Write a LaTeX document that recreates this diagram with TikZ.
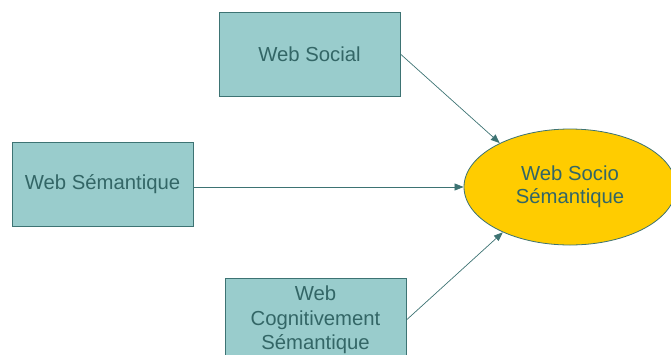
\documentclass[tikz,border=0pt]{standalone}
\usepackage{fontspec}
\setmainfont{Liberation Sans}
\usetikzlibrary{arrows.meta,shapes.geometric}
\definecolor{boxfill}{HTML}{99CCCC}
\definecolor{teal}{HTML}{3D7373}
\definecolor{txt}{HTML}{336666}
\definecolor{gold}{HTML}{FFCC00}
\tikzset{
  box/.style={draw=teal, line width=0.8pt, fill=boxfill, minimum width=181pt, minimum height=84pt, inner sep=0pt, text=txt, align=center, font=\fontsize{20.3}{24.5}\selectfont},
  goal/.style={ellipse, draw=teal, line width=0.8pt, fill=gold, minimum width=212pt, minimum height=116pt, inner sep=0pt, text=txt, align=center, font=\fontsize{20.3}{23}\selectfont},
  link/.style={draw=teal, line width=0.7pt, -{Triangle[length=9pt,width=7pt]}}
}
\begin{document}
\begin{tikzpicture}[x=1pt,y=-1pt]
\useasboundingbox (0,0) rectangle (671,354);
\node[box] (social) at (309.5,54) {Web Social};
\node[box] (sem) at (102.5,184) {Web Sémantique};
\node[box] (cog) at (315.5,320) {Web\\Cognitivement\\Sémantique};
\node[goal] (ell) at (570,187) {Web Socio\\Sémantique};
\draw[link] (social.east) -- (ell.148);
\draw[link] (sem.east |- ell.west) -- (ell.west);
\draw[link] (cog.east) -- (ell.214);
\end{tikzpicture}
\end{document}
